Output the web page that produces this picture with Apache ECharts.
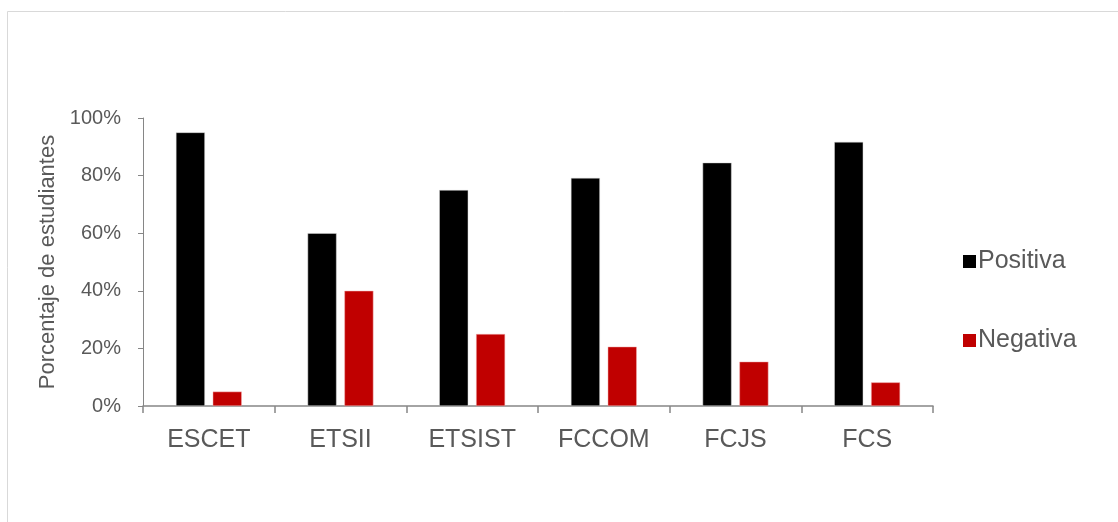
<!DOCTYPE html>
<html>
<head>
<meta charset="utf-8">
<script src="https://cdn.jsdelivr.net/npm/echarts@6/dist/echarts.min.js"></script>
<style>
  html, body { margin: 0; padding: 0; background: #fff; }
  #chart { width: 1118px; height: 522px; }
</style>
</head>
<body>
<div id="chart"></div>
<script>
// data
const categories = ['ESCET', 'ETSII', 'ETSIST', 'FCCOM', 'FCJS', 'FCS'];
const positiva = [95, 60, 75, 79.2, 84.5, 91.7];
const negativa = [5, 40, 25, 20.6, 15.4, 8.2];
const yTicks = [0, 20, 40, 60, 80, 100];

const chart = echarts.init(document.getElementById('chart'), null, { renderer: 'canvas' });

const font = '"Liberation Sans", Arial, sans-serif';

const option = {
    backgroundColor: '#fff',
    animation: false,
    graphic: [
        {
            type: 'rect',
            shape: { x: 7.5, y: 11.5, width: 1200, height: 600 },
            style: { fill: 'none', stroke: '#d9d9d9', lineWidth: 1 },
            silent: true
        }
    ],
    grid: {
        left: 143,
        right: 185,
        top: 118,
        bottom: 116
    },
    legend: {
        orient: 'vertical',
        left: 958,
        top: 244,
        itemWidth: 13,
        itemHeight: 13,
        itemGap: 54,
        icon: 'rect',
        itemStyle: { borderWidth: 0 },
        textStyle: {
            fontFamily: font,
            fontSize: 25,
            color: '#595959',
            padding: [0, 0, 0, -3]
        },
        data: ['Positiva', 'Negativa']
    },
    xAxis: {
        type: 'category',
        data: categories,
        axisLine: { lineStyle: { color: '#868686', width: 1.5 } },
        axisTick: { show: true, length: 7, lineStyle: { color: '#868686', width: 1.5 } },
        axisLabel: {
            fontFamily: font,
            fontSize: 25,
            color: '#595959',
            margin: 22
        }
    },
    yAxis: {
        type: 'value',
        min: 0,
        max: 100,
        interval: 20,
        name: 'Porcentaje de estudiantes',
        nameLocation: 'middle',
        nameRotate: 90,
        nameGap: 79,
        nameTextStyle: {
            fontFamily: font,
            fontSize: 22,
            color: '#595959'
        },
        axisLine: { show: true, lineStyle: { color: '#868686', width: 1 } },
        axisTick: { show: true, length: 5, inside: false, lineStyle: { color: '#868686' } },
        splitLine: { show: false },
        axisLabel: {
            fontFamily: font,
            fontSize: 20,
            color: '#595959',
            margin: 22,
            formatter: (v) => yTicks.includes(v) ? v + '%' : ''
        }
    },
    series: [
        {
            name: 'Positiva',
            type: 'bar',
            data: positiva,
            barWidth: 29,
            barGap: '27%',
            itemStyle: { color: '#000000', borderColor: '#d9d9d9', borderWidth: 0.5 }
        },
        {
            name: 'Negativa',
            type: 'bar',
            data: negativa,
            barWidth: 29,
            itemStyle: { color: '#c00000', borderColor: '#f2b3b3', borderWidth: 0.5 }
        }
    ]
};

chart.setOption(option);
</script>
</body>
</html>
